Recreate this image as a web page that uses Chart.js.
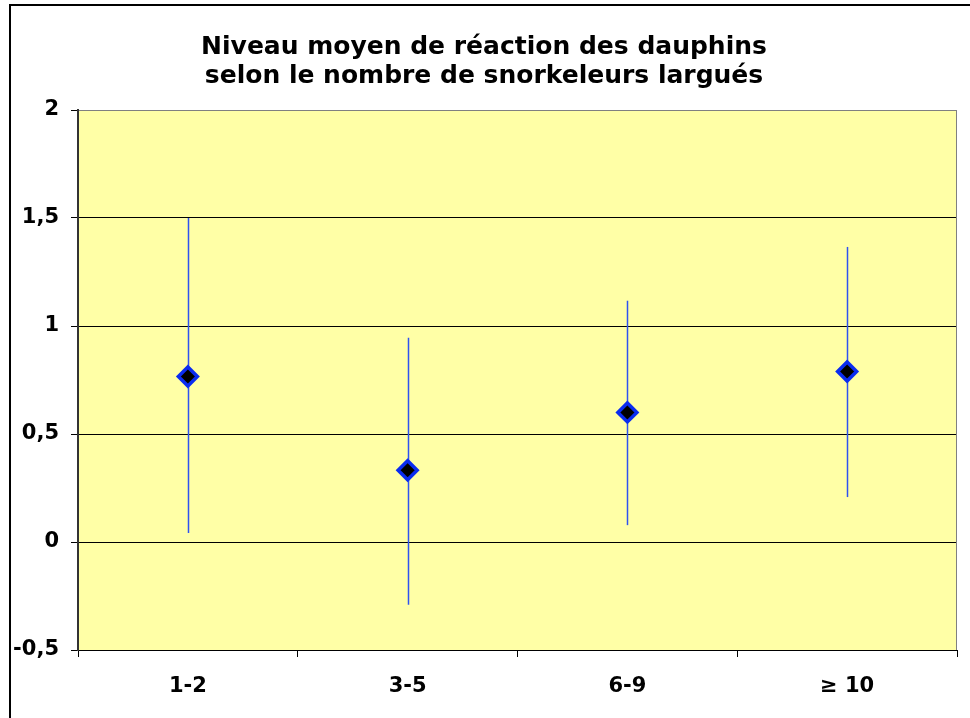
<!DOCTYPE html>
<html>
<head>
<meta charset="utf-8">
<script src="https://cdn.jsdelivr.net/npm/chart.js@4.4.0/dist/chart.umd.min.js"></script>
<style>
  html, body { margin: 0; padding: 0; background: #fff; }
  #wrap { width: 970px; height: 718px; position: relative; }
</style>
</head>
<body>
<div id="wrap"><canvas id="myChart" width="970" height="718"></canvas></div>
<script>
// data
const categories = ['1-2', '3-5', '6-9', '\u2265 10'];
const means = [0.766, 0.332, 0.60, 0.789];
const lows  = [0.042, -0.29, 0.078, 0.208];
const highs = [1.50, 0.946, 1.117, 1.366];
const yTicks = [-0.5, 0, 0.5, 1, 1.5, 2];

const FONT = "'DejaVu Sans', Verdana, sans-serif";

// white page, outer frame, yellow plot area, error bars
const decor = {
    id: 'decor',
    beforeDraw(chart) {
        const c = chart.ctx, a = chart.chartArea;
        c.save();
        c.fillStyle = '#fff';
        c.fillRect(0, 0, chart.width, chart.height);
        c.strokeStyle = '#000';
        c.lineWidth = 2;
        c.beginPath();
        c.moveTo(10, chart.height + 2);
        c.lineTo(10, 5);
        c.lineTo(chart.width + 2, 5);
        c.stroke();
        c.fillStyle = '#ffffa6';
        c.fillRect(a.left, a.top, a.right - a.left, a.bottom - a.top);
        c.restore();
    },
    beforeDatasetsDraw(chart) {
        const c = chart.ctx;
        const xs = chart.scales.x, ys = chart.scales.y;
        c.save();
        c.strokeStyle = '#2f52f0';
        c.lineWidth = 1.5;
        for (let i = 0; i < categories.length; i++) {
            const x = Math.round(xs.getPixelForValue(i)) + 0.5;
            c.beginPath();
            c.moveTo(x, ys.getPixelForValue(highs[i]));
            c.lineTo(x, ys.getPixelForValue(lows[i]));
            c.stroke();
        }
        c.restore();
    },
    afterDatasetsDraw(chart) {
        const c = chart.ctx, a = chart.chartArea;
        c.save();
        c.strokeStyle = '#808080';
        c.lineWidth = 1;
        c.beginPath();
        c.moveTo(a.right - 0.5, a.top);
        c.lineTo(a.right - 0.5, a.bottom);
        c.stroke();
        c.restore();
    }
};

const ctx = document.getElementById('myChart').getContext('2d');
const myChart = new Chart(ctx, {
    type: 'line',
    data: {
        labels: categories,
        datasets: [{
            data: means,
            showLine: false,
            pointStyle: 'rectRot',
            pointRadius: 9.5,
            pointHoverRadius: 9.5,
            pointBackgroundColor: '#000',
            pointBorderColor: '#0a2cf0',
            pointBorderWidth: 3.5
        }]
    },
    options: {
        responsive: false,
        animation: false,
        layout: { padding: { left: 0, right: 2, top: 0, bottom: 0 } },
        plugins: {
            legend: { display: false },
            tooltip: { enabled: false },
            title: {
                display: true,
                text: ['Niveau moyen de réaction des dauphins', 'selon le nombre de snorkeleurs largués'],
                color: '#000',
                font: { family: FONT, size: 25, weight: 'bold', lineHeight: 1.16 },
                padding: { top: 33, bottom: 19 }
            }
        },
        scales: {
            x: {
                offset: true,
                grid: { offset: true, drawOnChartArea: false, drawTicks: true, tickLength: 7, color: '#000' },
                border: { color: '#000', width: 1 },
                ticks: { color: '#000', font: { family: FONT, size: 21, weight: 'bold' }, padding: 17 },
                afterFit(s) { s.height = 68; }
            },
            y: {
                min: -0.5,
                max: 2,
                afterBuildTicks(s) { s.ticks = yTicks.map(v => ({ value: v })); },
                grid: {
                    color: c => (c.tick && c.tick.value === 2) ? '#808080' : '#000',
                    tickColor: '#000',
                    tickLength: 7,
                    lineWidth: 1
                },
                border: { color: '#333', width: 2 },
                ticks: {
                    color: '#000',
                    font: { family: FONT, size: 21, weight: 'bold' },
                    padding: 12,
                    callback: v => String(v).replace('.', ',')
                },
                afterFit(s) { s.width = 78; }
            }
        }
    },
    plugins: [decor]
});
</script>
</body>
</html>
